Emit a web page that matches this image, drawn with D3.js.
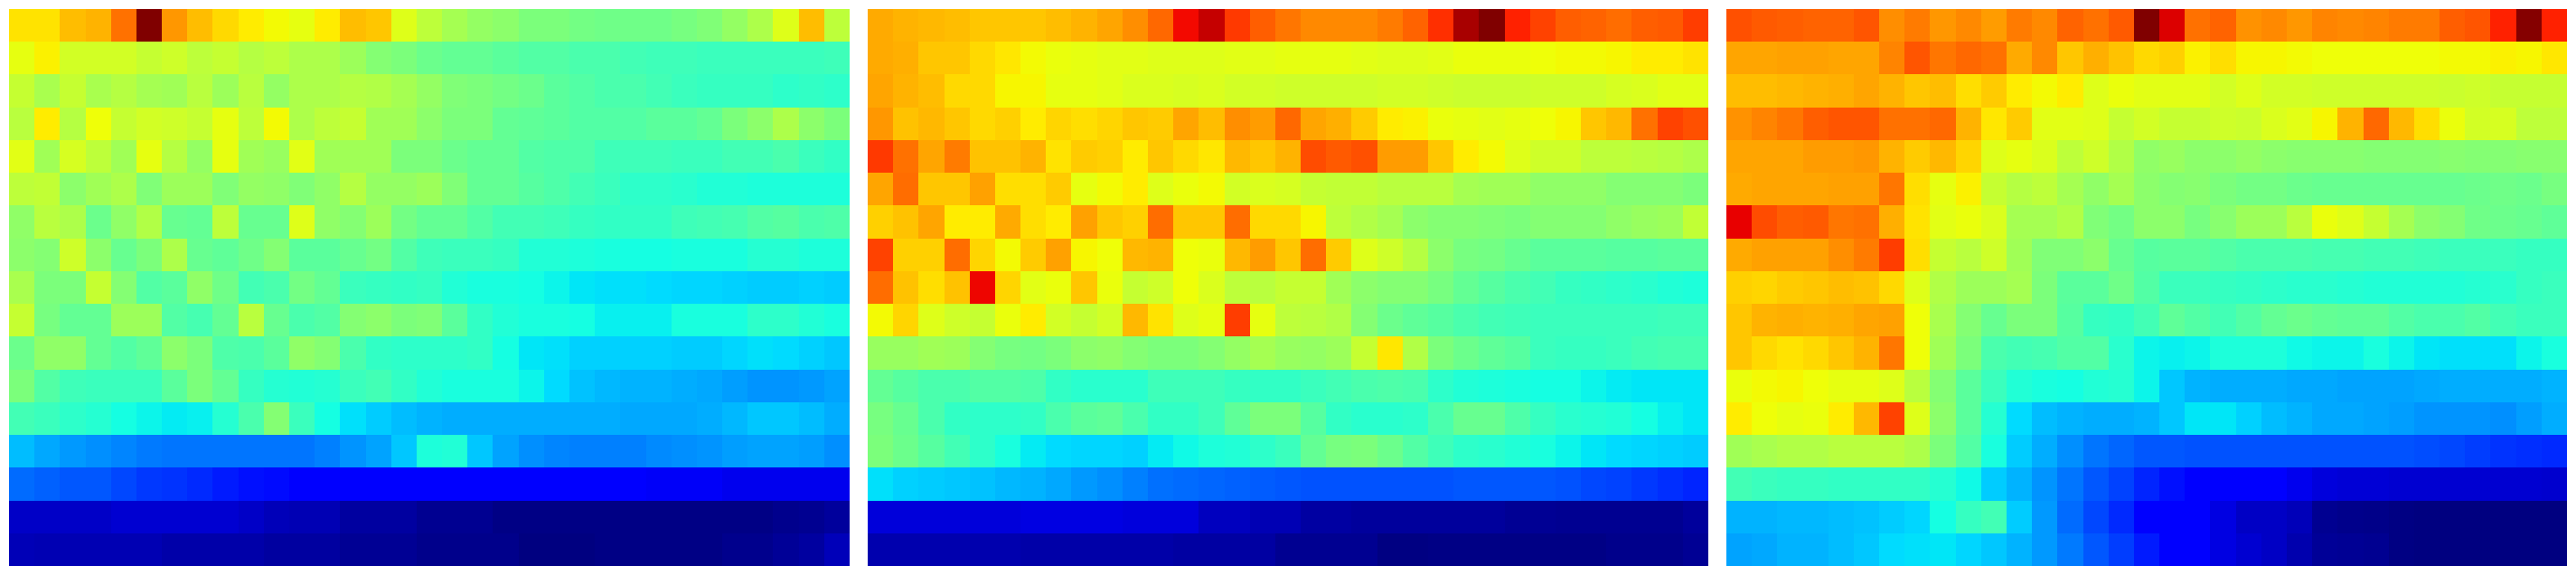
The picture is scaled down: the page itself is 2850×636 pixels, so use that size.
<!DOCTYPE html>
<html><head><meta charset="utf-8">
<script src="https://cdn.jsdelivr.net/npm/d3@7/dist/d3.min.js"></script>
<style>html,body{margin:0;padding:0;background:#fff;overflow:hidden}svg{display:block}</style>
</head><body><svg id="chart" width="2850" height="636"></svg>
<script>
const panelA = [
[67,67,71,72,79,100,75,71,68,66,64.5,63,66,71,70,62,58,55,53,52,50,50,49,48.5,48.5,48.5,49.5,50.5,53,56,62,71,58],
[63,65.5,60.5,60.5,60.5,59,60,58,59,57,58,56,56,54,51,50,48,47,47,46,45,45,44,44,43,42.5,42.5,42,42,42,42,42,42.5],
[59,55.5,59,55.5,57,55,54.5,57.5,54,57.5,53,56,56,57,56.5,55,53,50.5,50,49,48,46,45,44,44,43,42,41.5,41.5,41.5,40.5,41,40.5],
[57.5,66,57,64,59,60.5,60,59,63,58,64.5,56,58,59,54.5,54.5,52,50,50,47,46.5,46,45,45,45,46,46,47,50,52,56,52,50],
[62.5,54.5,61,58,54.5,63,57,53,63,54.5,53.5,62.5,54.5,54.5,54.5,50,50,48,47,47,45,44.5,44.5,42.5,42.5,42.5,42,42,43,43,44,42,41],
[58,58.5,52,54.5,56,50.5,54,54,50.5,53,52.5,50.5,52.5,57,53,53,54,50.5,47,47,45.5,44.5,43,42,40.5,40.5,40,39,39,38.5,38.5,38.5,38.5],
[52.5,57.5,56,48,52.5,56.5,47.5,47,58,47.5,47.5,62,52.5,51,54,49,47,47,45,43,43,42.5,41.5,41,41,41,42.5,43,43.5,45,45.5,44,44.5],
[52,51,60,52,47.5,50,56,47.5,46.5,48.5,51,46,46,47.5,49,45,42.5,42,42,41.5,39,39,38.5,38,37.5,37.5,38,38,38,39.5,39.5,38.5,38.5],
[55.5,50,50,59,51,45,46,52.5,48.5,43,44,49,47,42,41.5,41,41.5,39,38,38,37.5,36.5,35,34.5,34.5,34,33.5,33.5,33,32.5,32.5,33,32.5],
[59,49.5,47,47,54,54,45,43.5,47,57.5,47.5,44,45,51,52,50,50.5,46,41,39,38,38,37.5,36,36,36,38,38,38,40.5,40.5,39,38],
[48,52.5,52.5,47,45,46.5,52,50,44.5,44,46,52.5,51,44,41,40.5,40.5,40.5,41,37.5,35,34.5,33,33,33,33,32.5,32.5,33.5,34.5,34,33,32],
[50,45,42.5,42,42,42,46,50,47,41.5,39.5,39,39.5,42,43,41,39,38,38,38,36.5,34,31.5,30.5,30,30,29.5,29,28,27,27,27.5,28.5],
[43,42,40.5,39.5,37.5,36.5,35.5,36,39.5,44,51,42,37.5,34.5,32.5,31,30,29.5,29.5,29.5,29.5,29.5,29.5,29.5,29,29,29,29.5,30.5,32,32,31,29.5],
[31,29,27.5,26.5,25.5,24.5,24,24,24,24,24,24,25,27,28.5,32,38.5,39,32,28.5,26.5,25.5,25,25,25,26,26.5,27,28,28.5,28.5,28,26.5],
[23,22,21,21,19.5,18,17.5,16.5,15,14,13.5,11.5,11.5,11.5,11.5,11.5,11.5,11.5,11.5,11.5,11.5,11.5,11.5,11.5,11.5,10.5,10.5,10.5,9.5,9.5,9.5,9.5,9.5],
[6.2,6.2,6.2,6.2,7,7,7,7,7,6.2,5,4.5,4.5,2.8,2.8,2.8,1.5,1.5,1.5,0.5,0.5,0.5,0.5,0.5,0.5,0.5,0.5,0.5,0.5,0.5,1.2,1.5,2.5],
[4.8,4.4,4.4,4.4,4.4,4.4,3.6,3.6,3.6,3.6,2.8,2.8,2.8,1.8,1.8,1.8,1,1,1,1,0,0,0,0.5,0.5,0.5,0.5,0.5,1.2,1.2,2,2.8,5]
];
const panelB = [
[73,72,71.5,71,70,70,70,71,72,73.5,76,80,90,94,85,81,78.5,76.5,76.5,76.5,78,80.5,86,96.5,100,87.5,84,81,80.5,79.5,81,81.5,84.5],
[73,72.5,70,70,68,66.5,64.5,63.5,63,62.5,62.5,62,62,62,62.5,62.5,63,63,63,62.5,62,62,62.5,63.5,63.5,63.5,64,64.5,64.5,65,66,66,67],
[73.5,72,71,68,68,65,65,63,63,62.5,61.5,61.5,61,61.5,60.5,60.5,60,60,60,60,60.5,60.5,60,59.5,59.5,59.5,60,60,60,61,61.5,62.5,62.5],
[75,70.5,71.5,70,68,69,66,68.5,67.5,68.5,70,69.5,73.5,71,76,74.5,80,73.5,72.5,69.5,66,65.5,63.5,63,62.5,63,64,65,70,71.5,79,84,82.5],
[85,79,73.5,78,70.5,70.5,72,67,69.5,69,66,70,68,66.5,71.5,70,72,83,81.5,82.5,74.5,74.5,70,66,64.5,62,60,60,58,58,57.5,57,56],
[73.5,79.5,70,70,74,67.5,67.5,69.5,63,64.5,66,62,63.5,64.5,60.5,61.5,61,59,58.5,58.5,57.5,57.5,57.5,55,54.5,54.5,52.5,52.5,52.5,51,51,51,50],
[69,70.5,73.5,66,66,73,67.5,66,74,70,69,79.5,70,70,79.5,68,68,65,58,56.5,55,52,51,51,50.5,50,51,51,51,52.5,53.5,54,58.5],
[84,69,69,79.5,68.5,64.5,69.5,74,65,64,71.5,72,64,63.5,71.5,74.5,70,79.5,69.5,62,60,57,52,49.5,49,47.5,46,46,46,45.5,45.5,46,46],
[79.5,70.5,67.5,70.5,90.5,68.5,62.5,63.5,70,63.5,59,60,64,61.5,58,57.5,59,59,54.5,52,51,51,49.5,47,45.5,44,43,41.5,41,40.5,40,39,38.5],
[64.5,68.5,62,60,59,63.5,66,60.5,59,60.5,71.5,67,62,63,84.5,63,58,57.5,56.5,51,48,46.5,45.5,44,43,42.5,42,42,42,42,42,42.5,42.5],
[53.5,53.5,54.5,54,51,49.5,49,50,52,52.5,51,50,50,51,53,55,53.5,53,54,59,66.5,56.5,50,48,46.5,45.5,42,41.5,41.5,42,43,43.5,43.5],
[47,45.5,44,44,45,45,44.5,41,40,40,40,42.5,42.5,42.5,41.5,41,41,42,43,44,44.5,44,40.5,39,38.5,38,37.5,37.5,36.5,35.5,35,35,35],
[49.5,47.5,44,41,40.5,40.5,41,44,46,46.5,44,41,41,42.5,46.5,50,50,45.5,41,40,40,40.5,44,47.5,47.5,44.5,41.5,40,39.5,39,37.5,36,35],
[50,48,45.5,43,40.5,38,35.5,34,33.5,33.5,33,35.5,37,38.5,39,40.5,42,47,49.5,50,48,45,42.5,40.5,40,39,38,36.5,35,34,33.5,33,32.5],
[34.5,33,32.5,32,31.5,30.5,30,29,27.5,26.5,25,23.5,23,22.5,22,21.5,21,20.5,20.5,20.5,20.5,20.5,20.5,21,21,21,21,20.5,19.5,19,18,17,16],
[7.8,7.8,7.8,7.8,7.8,7.8,8.5,8.5,8.5,8.5,8,8,8,5.5,5.5,4.5,4.5,3,3,2.5,2.5,2.5,2.5,2.5,2.5,1.8,1.8,1.5,1.5,1.5,1.5,1.5,2.5],
[4,4,4,4,4,4,3.5,3.5,3.5,3.5,3.5,3.5,3,3,3,3,1.5,1.5,1.5,1.5,0.2,0.2,0.5,0.5,0.5,0.5,0.5,0.5,0.5,1,1,1,1.8]
];
const panelC = [
[82.5,81.5,81,80.5,80.5,82,76,78,75,76.5,74.5,78,76.5,80.5,79,81.5,100,92,79,80.5,75.5,76.5,75,77,76.5,77,78,78,81,82,87.5,99.5,87.5],
[73.5,73.5,74,74,73.5,73.5,77,82,78.5,80,79,73,76.5,70,72.5,70.5,68,69,65.5,67.5,65,65,64.5,64,64,64,64,64,64.5,64.5,65.5,65,66.5],
[71,71,71.5,72,72.5,73.5,72,70,71,67.5,69.5,66,64.5,66,62,63.5,62.5,62.5,62.5,60.5,62,60.5,60.5,60,60,60,60,60,59.5,60,59,59,59],
[75.5,77,78.5,81,82,82,79,79,80,72,66.5,69.5,62.5,62.5,62,59,60.5,59,59,60,59.5,61.5,62.5,65,72,80,71.5,67.5,63.5,60.5,61,58,58],
[73.5,73.5,73.5,74.5,74.5,75,72,69.5,71.5,68.5,62,63,61.5,58,60,56.5,52.5,53.5,52,52,53,52,51.5,51.5,51.5,51,51,51,51.5,51,51,51.5,51.5],
[73,73.5,73.5,73.5,74,74,78.5,67.5,63,65.5,59,57,58,55,52.5,55,52,51,51.5,50,49,49,48,47.5,47.5,47.5,47.5,47.5,47.5,48,48.5,48,49.5],
[91,83,81,81.5,78.5,79,72.5,67,62.5,63.5,61.5,55,55,56.5,50.5,49,52,52,49.5,51.5,54,54,57.5,63.5,62,59,55,52,51,48.5,48,47.5,46.5],
[73,74,74,74,76,78,84.5,67.5,59,57.5,60,54.5,50.5,50.5,52,47.5,45.5,46,46,45,44,44,44,43.5,43.5,43,43,42.5,42,42,42,41.5,41.5],
[69,68.5,69.5,70,71,70.5,68,62,56.5,54,54,55,50,46,46,48.5,45,42,42,41.5,41,40.5,40,40,39.5,39,39,39,39,39.5,40,41.5,42],
[70,72,72.5,72,72.5,73.5,74,64,55.5,51,47.5,50,50,45.5,41.5,41,43,46.5,45,43,45,47,48,47,46.5,46.5,45,44,44,45,43,42,42],
[70,68,67,68,70,72,78.5,64,54.5,50,44,43,43.5,45,45,40,36.5,36,36.5,38.5,38.5,38.5,37,36.5,36.5,38,36.5,35,34.5,34.5,34.5,36.5,38],
[63.5,64.5,65,64,63,63,62,57.5,51,46,42,39,38,37.5,39,39.5,36.5,32,30,29.5,29.5,29.5,29,29,28.5,28.5,28.5,29,29.5,29.5,29.5,29.5,30],
[66,64,63,63.5,66,71.5,84,62,52,46,39.5,34,31,30,29.5,29.5,30,32,35,35,33,31,30,29,29,28.5,28,27,27,27,26.5,28,29.5],
[54.5,55.5,56.5,56.5,57.5,57.5,57.5,56,50,45,38,32.5,29.5,26.5,24,22.5,21,21,20.5,20.5,20.5,20.5,20.5,20.5,20.5,20.5,20.5,20,19.5,18.5,17.5,17,16.5],
[43,42,41.5,41.5,41,41,41,41,39.5,37,32.5,30,27,24,21,19,16,14,11.8,11.2,11,11,9.5,8,7.5,7.5,7,7,7,7,7,7,6.8],
[30,30,30.5,30.5,31,31.5,32.5,33.5,37.5,41.5,43,32.5,27.5,23,19.5,16.5,12,11.5,11,8.5,6,6,5,1.5,1,0.8,0.3,0,0,0,0,0,0],
[28.5,29,30,30,31,32,34,34.5,35,33.5,32,30,27.5,24.5,21,18.5,15,12,11.5,8.5,7,6,4,2,1.8,1.5,0.3,0,0,0,0,0,0]
];
const panels = [panelA, panelB, panelC];

const frame = {w:930, h:616, top:10, lefts:[10,960,1910]};
const rows = d3.range(17), cols = d3.range(33);
const jet = (() => {
  const r = d3.scaleLinear([0,35,66,89,100],[0,0,1,1,.5]);
  const g = d3.scaleLinear([0,12.5,37.5,64,91,100],[0,0,1,1,0,0]);
  const b = d3.scaleLinear([0,11,34,65,100],[.5,1,1,0,0]);
  return v => d3.rgb(r(v)*255,g(v)*255,b(v)*255).formatHex();
})();
const x = d3.scaleBand().domain(cols).range([0,frame.w]);
const y = d3.scaleBand().domain(rows).range([0,frame.h]);
const svg = d3.select("#chart");
panels.forEach((data,p)=>{
  const g = svg.append("g").attr("transform",`translate(${frame.lefts[p]},${frame.top})`);
  g.selectAll("g").data(data).join("g").each(function(row,i){
    d3.select(this).selectAll("rect").data(row).join("rect")
      .attr("x",(d,j)=>Math.round(x(j)))
      .attr("y",Math.round(y(i)))
      .attr("width",(d,j)=>Math.round(x(j)+x.bandwidth())-Math.round(x(j)))
      .attr("height",Math.round(y(i)+y.bandwidth())-Math.round(y(i)))
      .attr("fill",d=>jet(d))
      .attr("shape-rendering","crispEdges");
  });
});
</script></body></html>
